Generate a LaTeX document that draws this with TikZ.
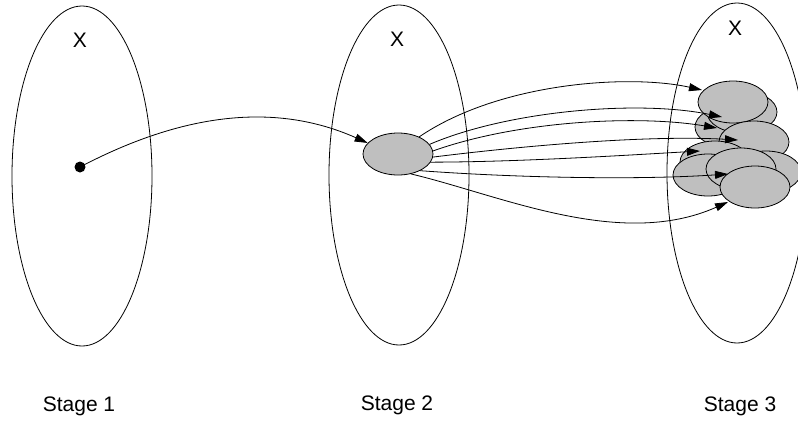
\documentclass[tikz,border=0pt]{standalone}
\usepackage{fontspec}
\setmainfont{Liberation Sans}
\usetikzlibrary{arrows.meta,shapes.geometric}
\begin{document}
\begin{tikzpicture}[x=1pt,y=-1pt,
  bigset/.style={draw,ellipse,line width=0.8pt,minimum width=140pt,minimum height=340pt,inner sep=0pt},
  blob/.style={draw,ellipse,fill=black!25,line width=0.8pt,minimum width=70pt,minimum height=42pt,inner sep=0pt},
  conn/.style={line width=0.8pt,-{Triangle[length=13pt,width=8pt]}},
  lbl/.style={font=\fontsize{21}{25}\selectfont,anchor=base}]
\useasboundingbox (0,0) rectangle (798,421);
\begin{scope}
\clip (0,0) rectangle (798,421);
\node[bigset] (S1) at (82,176) {};
\node[bigset] (S2) at (399,175) {};
\node[bigset] (S3) at (737,173) {};
\end{scope}
\node[lbl] (X1) at (80,47) {X};
\node[lbl] (X2) at (397,46) {X};
\node[lbl] (X3) at (735,35) {X};
\node[lbl] (L1) at (79,411) {Stage 1};
\node[lbl] (L2) at (397,410) {Stage 2};
\node[lbl] (L3) at (740,411) {Stage 3};
\node[circle,fill=black,inner sep=0pt,minimum size=11pt] (D) at (80,167) {};
\node[blob] (G) at (398,154) {};
% cluster
\node[blob] (E3) at (730,127) {};
\node[blob] (E2) at (742,112) {};
\node[blob] (E1) at (733,102) {};
\node[blob] (E4) at (754,142) {};
\node[blob] (E5) at (715,162) {};
\node[blob] (E8) at (766,172) {};
\node[blob] (E6) at (708,175) {};
\node[blob] (E7) at (741,169) {};
\node[blob] (E9) at (755,187) {};
\coordinate (T1) at (702,90);
\coordinate (T2) at (722,117);
\coordinate (T3) at (717,128);
\coordinate (T4) at (738,140);
\coordinate (T5) at (700,151);
\coordinate (T6) at (728,174);
\coordinate (T7) at (728,202);
\draw[conn] (D.center) .. controls (160,125) and (260,95) .. (G.160);
\draw[conn] (G.39) .. controls (500,82) and (630,74) .. (T1);
\draw[conn] (G.17) .. controls (510,110) and (640,100) .. (T2);
\draw[conn] (G.5) .. controls (520,120) and (640,115) .. (T3);
\draw[conn] (G.-5) .. controls (530,145) and (650,135) .. (T4);
\draw[conn] (G.-14) .. controls (520,162) and (630,155) .. (T5);
\draw[conn] (G.-37) .. controls (520,178) and (640,180) .. (T6);
\draw[conn] (G.-57) .. controls (500,195) and (620,250) .. (T7);
\end{tikzpicture}
\end{document}
